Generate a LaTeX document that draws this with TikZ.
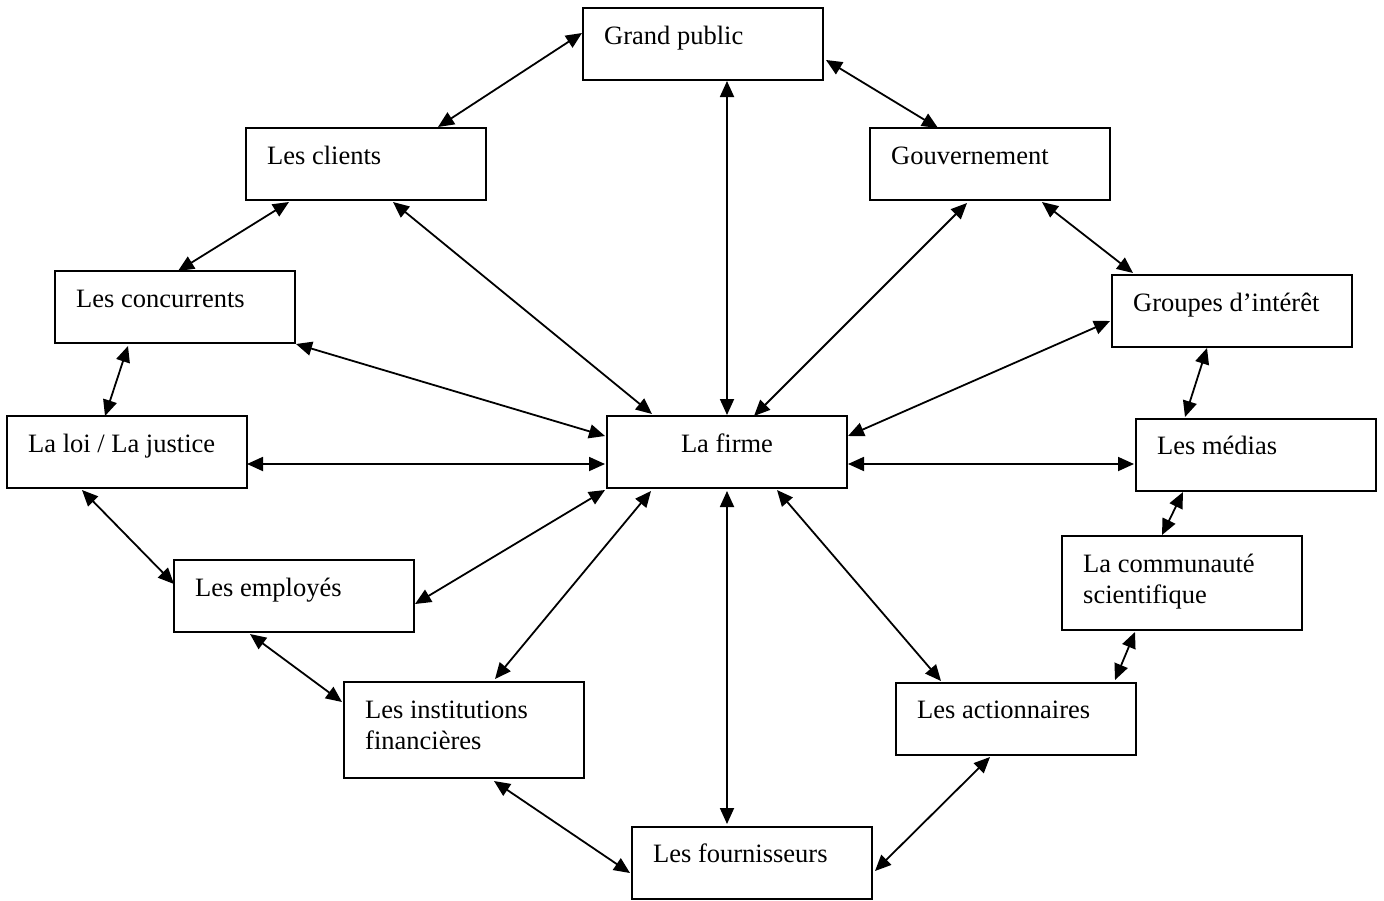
\documentclass[tikz,border=0pt]{standalone}
\usepackage{fontspec}
\setmainfont{Liberation Serif}
\usetikzlibrary{arrows.meta}
\begin{document}
\begin{tikzpicture}[x=1pt,y=-1pt,
  box/.style={draw,line width=2pt,minimum width=240pt,minimum height=72pt,inner sep=0pt},
  lbl/.style={anchor=base west,inner sep=0pt,font=\fontsize{26.5}{31}\selectfont},
  link/.style={line width=1.8pt,{Triangle[length=16pt,width=14pt]}-{Triangle[length=16pt,width=14pt]}}]
\useasboundingbox (0,0) rectangle (1384,900);
\fill[white] (0,0) rectangle (1384,900);
% boxes
\node[box] (gp) at (703,44) {};
\node[box] (cl) at (366,164) {};
\node[box] (gv) at (990,164) {};
\node[box] (co) at (175,307) {};
\node[box] (gi) at (1232,311) {};
\node[box] (lj) at (127,452) {};
\node[box] (fi) at (727,452) {};
\node[box] (me) at (1256,455) {};
\node[box,minimum height=94pt] (cs) at (1182,583) {};
\node[box] (em) at (294,596) {};
\node[box,minimum height=96pt] (in) at (464,730) {};
\node[box] (ac) at (1016,719) {};
\node[box] (fo) at (752,863) {};
% labels
\node[lbl] (gpt) at (604,44) {Grand public};
\node[lbl] (clt) at (267,164) {Les clients};
\node[lbl] (gvt) at (891,164) {Gouvernement};
\node[lbl] (cot) at (76,307) {Les concurrents};
\node[lbl] (git) at (1133,311) {Groupes d’intérêt};
\node[lbl] (ljt) at (28,452) {La loi / La justice};
\node[lbl,anchor=base] (fit) at (727,452) {La firme};
\node[lbl] (met) at (1157,454) {Les médias};
\node[lbl] (cst) at (1083,572) {\begin{tabular}[t]{@{}l@{}}La communauté\\scientifique\end{tabular}};
\node[lbl] (emt) at (195,596) {Les employés};
\node[lbl] (int) at (365,718) {\begin{tabular}[t]{@{}l@{}}Les institutions\\financières\end{tabular}};
\node[lbl] (act) at (917,718) {Les actionnaires};
\node[lbl] (fot) at (653,862) {Les fournisseurs};
% connectors
\draw[link] ([shift={(-121,-11)}]gp.center) -- ([shift={(72,-37)}]cl.center);
\draw[link] ([shift={(123,16)}]gp.center) -- ([shift={(-52,-36)}]gv.center);
\draw[link] ([shift={(24,37)}]gp.center) -- ([shift={(0,-37)}]fi.center);
\draw[link] ([shift={(-77,38)}]cl.center) -- ([shift={(3,-36)}]co.center);
\draw[link] ([shift={(27,38)}]cl.center) -- ([shift={(-75,-38)}]fi.center);
\draw[link] ([shift={(-23,39)}]gv.center) -- ([shift={(27,-36)}]fi.center);
\draw[link] ([shift={(52,38)}]gv.center) -- ([shift={(-99,-38)}]gi.center);
\draw[link] ([shift={(121,37)}]co.center) -- ([shift={(-122,-16)}]fi.center);
\draw[link] ([shift={(-122,10)}]gi.center) -- ([shift={(121,-16)}]fi.center);
\draw[link] ([shift={(-47,39)}]co.center) -- ([shift={(-22,-36)}]lj.center);
\draw[link] ([shift={(-25,37)}]gi.center) -- ([shift={(-71,-38)}]me.center);
\draw[link] ([shift={(120,12)}]lj.center) -- ([shift={(-122,12)}]fi.center);
\draw[link] ([shift={(121,12)}]fi.center) -- ([shift={(-122,9)}]me.center);
\draw[link] ([shift={(-45,38)}]lj.center) -- ([shift={(-120,-12)}]em.center);
\draw[link] ([shift={(-122,38)}]fi.center) -- ([shift={(121,8)}]em.center);
\draw[link] ([shift={(-73,37)}]me.center) -- ([shift={(-20,-48)}]cs.center);
\draw[link] ([shift={(-76,39)}]fi.center) -- ([shift={(31,-51)}]in.center);
\draw[link] ([shift={(0,39)}]fi.center) -- ([shift={(-25,-39)}]fo.center);
\draw[link] ([shift={(50,38)}]fi.center) -- ([shift={(-75,-38)}]ac.center);
\draw[link] ([shift={(-47,49)}]cs.center) -- ([shift={(99,-39)}]ac.center);
\draw[link] ([shift={(-44,38)}]em.center) -- ([shift={(-122,-28)}]in.center);
\draw[link] ([shift={(30,51)}]in.center) -- ([shift={(-122,10)}]fo.center);
\draw[link] ([shift={(-26,38)}]ac.center) -- ([shift={(123,8)}]fo.center);
\end{tikzpicture}
\end{document}
